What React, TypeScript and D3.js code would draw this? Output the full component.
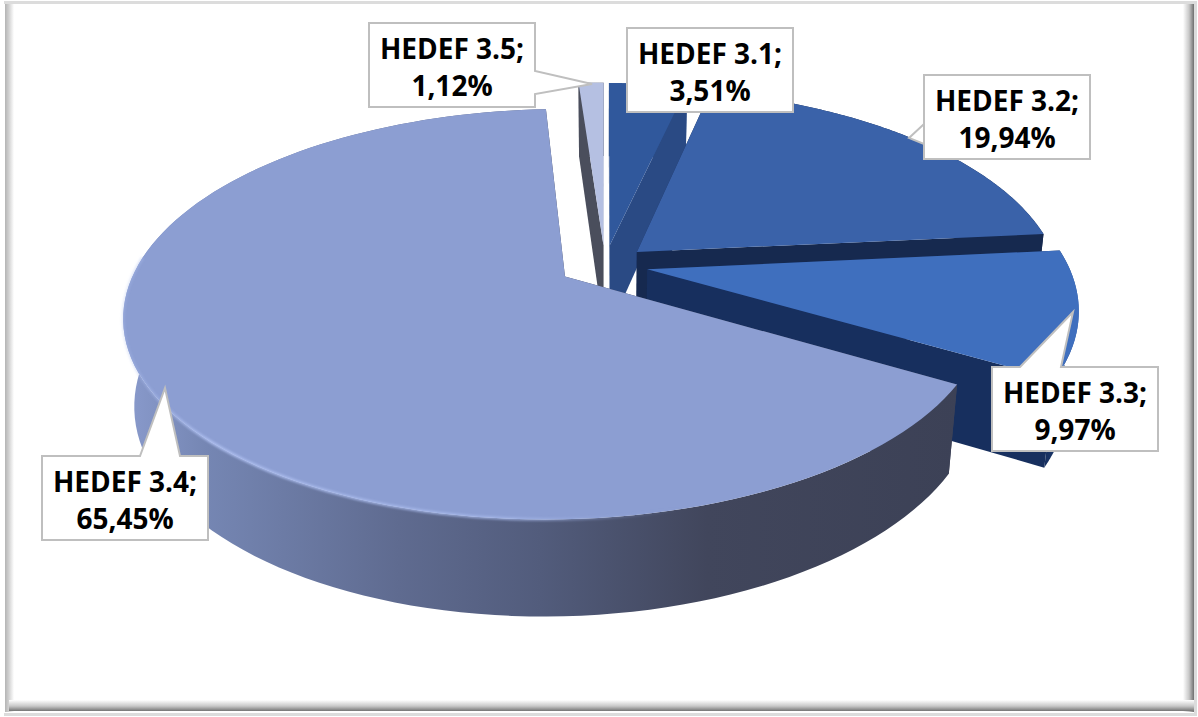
import React from "react";
import * as d3 from "d3";

const categories = ["HEDEF 3.1", "HEDEF 3.2", "HEDEF 3.3", "HEDEF 3.4", "HEDEF 3.5"];
const values = [3.51, 19.94, 9.97, 65.45, 1.12];
const valueLabels = ["3,51%", "19,94%", "9,97%", "65,45%", "1,12%"];
const topColors = ["#30589c", "#3a62a9", "#3f6fbe", "#8c9ed2", "#b5c0e2"];
const faceColors = ["#2a4a84", "#16294f", "#172f5e", "#3e4358", "#4a4e5c"];
const wallStops = [
  [["0", "#2c528f"], ["1", "#2c528f"]],
  [["0", "#16294f"], ["1", "#16294f"]],
  [["0", "#17305f"], ["0.6", "#1c3a72"], ["1", "#3d6bb6"]],
  [["0", "#8a9bcd"], ["0.1", "#7586b3"], ["0.33", "#5f6b90"], ["0.5", "#525c7c"], ["0.7", "#41465c"], ["1", "#3c4156"]],
  [["0", "#4a4e5c"], ["1", "#4a4e5c"]],
];
const drawOrder = [4, 0, 1, 2, 3];
const wallFirst = [true, true, false, false, true];
const radiusScale = [1, 1, 1, 0.97, 1];
const explodeBy = [0.1, 0.1, 0.1, 0.108, 0.1];

const W = 1198, H = 717;
const CX = 605, CY = 265;
const THICK = 0.225;
const ELEV = (27.6 * Math.PI) / 180, DIST = 4.74, FOCAL = 2043, YAW = 0.02;

function project(X: number, Y: number, depth: number): [number, number] {
  const c = Math.cos(ELEV), s = Math.sin(ELEV);
  const v = -depth * c - Y * s;
  const d = DIST - (Y * c - depth * s) + YAW * DIST * X;
  return [CX + (FOCAL * X) / d, CY - (FOCAL * v) / d];
}

const line = d3.line();
const pieLayout = d3.pie<number>().sort(null).startAngle(0).endAngle(2 * Math.PI);
const arcs = pieLayout(values);
const GLOW_FROM = (150 * Math.PI) / 180, GLOW_TO = (276 * Math.PI) / 180;

function slicePaths(i: number) {
  const { startAngle: a0, endAngle: a1 } = arcs[i];
  const mid = (a0 + a1) / 2;
  const R = radiusScale[i];
  const ox = explodeBy[i] * Math.sin(mid), oy = -explodeBy[i] * Math.cos(mid);
  const steps = d3.range(0, 121).map((k) => a0 + ((a1 - a0) * k) / 120);
  const pt = (a: number, depth: number) => project(ox + R * Math.sin(a), oy - R * Math.cos(a), depth);
  const rim = (depth: number) => steps.map((a) => pt(a, depth));
  const apex = (depth: number) => project(ox, oy, depth);
  const top = rim(0), bottom = rim(THICK);
  const topPath = line([apex(0), ...top])! + "Z";
  const wall = line([...top, ...[...bottom].reverse()])! + "Z";
  const face0 = line([apex(0), top[0], bottom[0], apex(THICK)])! + "Z";
  const face1 = line([apex(0), top[120], bottom[120], apex(THICK)])! + "Z";
  const xs = [...top, ...bottom].map((p) => p[0]);
  const glow = steps.filter((a) => a >= GLOW_FROM && a <= GLOW_TO).map((a) => pt(a, 0));
  return { topPath, wall, face0, face1, glow: line(glow) ?? "", x0: d3.min(xs)!, x1: d3.max(xs)! };
}

const boxW = 166, boxH = 84;
const labelBoxes = [
  { x: 627, y: 28, tail: null as null | number[][] },
  { x: 924, y: 75, tail: [[924, 124], [909, 138], [924, 144]] },
  { x: 992, y: 367, tail: [[1020, 367], [1073, 312], [1061, 367]] },
  { x: 42, y: 456, tail: [[140, 456], [165, 388], [180, 456]] },
  { x: 369, y: 23, tail: [[535, 71], [592, 84], [535, 94]] },
];

function boxPath(b: { x: number; y: number; tail: null | number[][] }) {
  const { x, y, tail } = b;
  const r = x + boxW, m = y + boxH;
  if (!tail) return `M${x},${y}H${r}V${m}H${x}Z`;
  const t = tail.map((p) => p.join(",")).join("L");
  if (tail[0][1] === y) return `M${x},${y}L${t}H${r}V${m}H${x}Z`;
  if (tail[0][0] === r) return `M${x},${y}H${r}L${t}V${m}H${x}Z`;
  return `M${x},${y}H${r}V${m}H${x}L${t}Z`;
}

export default function App() {
  const paths = values.map((_, i) => slicePaths(i));
  return (
    <svg width={W} height={H} style={{ position: "absolute", left: 0, top: 0, background: "#fff" }}
      fontFamily="'Open Sans', 'Noto Sans', sans-serif">
      <defs>
        {paths.map((p, i) => (
          <linearGradient key={i} id={`wall${i}`} gradientUnits="userSpaceOnUse" x1={p.x0} x2={p.x1} y1={0} y2={0}>
            {wallStops[i].map(([o, c]) => <stop key={o} offset={o} stopColor={c} />)}
          </linearGradient>
        ))}
        <linearGradient id="rimGlow" gradientUnits="userSpaceOnUse" x1={127} x2={680} y1={0} y2={0}>
          <stop offset="0" stopColor="#a9bbec" stopOpacity={0.3} />
          <stop offset="0.15" stopColor="#aebff0" stopOpacity={0.9} />
          <stop offset="0.7" stopColor="#a9bbec" stopOpacity={0.7} />
          <stop offset="1" stopColor="#8c9ed2" stopOpacity={0} />
        </linearGradient>
        <filter id="soft" x="-5%" y="-5%" width="110%" height="110%">
          <feGaussianBlur stdDeviation="0.8" />
        </filter>
        <linearGradient id="fL" x1="0" x2="1" y1="0" y2="0">
          <stop offset="0" stopColor="#b4b4b4" /><stop offset="0.4" stopColor="#cfcfcf" /><stop offset="1" stopColor="#fff" />
        </linearGradient>
        <linearGradient id="fR" x1="0" x2="1" y1="0" y2="0">
          <stop offset="0" stopColor="#fff" /><stop offset="0.55" stopColor="#c8c8c8" /><stop offset="1" stopColor="#6f6f6f" />
        </linearGradient>
        <linearGradient id="fB" x1="0" x2="0" y1="0" y2="1">
          <stop offset="0" stopColor="#fff" /><stop offset="0.55" stopColor="#c8c8c8" /><stop offset="1" stopColor="#757575" />
        </linearGradient>
      </defs>

      <rect x={4} y={1} width={1193} height={715} fill="#dcdcdc" />
      <rect x={4} y={4} width={1190} height={709} fill="#fff" />
      <rect x={5} y={4} width={9} height={708} fill="url(#fL)" />
      <rect x={1183} y={4} width={11} height={708} fill="url(#fR)" />
      <rect x={9} y={700} width={1185} height={11} fill="url(#fB)" />

      {drawOrder.map((i) => {
        const p = paths[i];
        const wall = <path d={p.wall} fill={`url(#wall${i})`} />;
        return (
          <g key={categories[i]}>
            {wallFirst[i] && wall}
            <path d={p.face0} fill={faceColors[i]} />
            <path d={p.face1} fill={faceColors[i]} />
            {!wallFirst[i] && wall}
            <path d={p.topPath} fill={topColors[i]} />
            {i === 3 && <path d={p.glow} fill="none" stroke="url(#rimGlow)" strokeWidth={3} filter="url(#soft)" />}
          </g>
        );
      })}

      {labelBoxes.map((b, i) => (
        <g key={categories[i]}>
          <path d={boxPath(b)} fill="#fff" stroke="#bfbfbf" strokeWidth={2} />
          <text x={b.x + boxW / 2} y={b.y + 36} textAnchor="middle" fontSize={28} fontWeight={700} fill="#000">
            {categories[i]};
          </text>
          <text x={b.x + boxW / 2} y={b.y + 73} textAnchor="middle" fontSize={28} fontWeight={700} fill="#000">
            {valueLabels[i]}
          </text>
        </g>
      ))}
    </svg>
  );
}
